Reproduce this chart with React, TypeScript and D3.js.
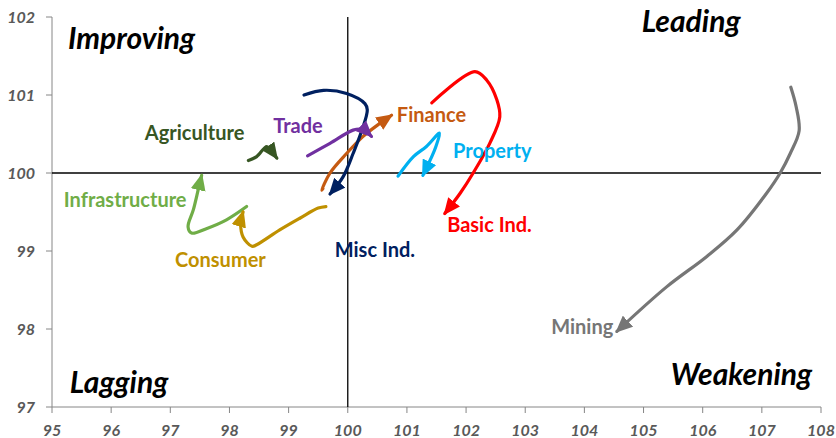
import React from "react";
import * as d3 from "d3";

// relative strength (x) vs momentum (y) trails
const xTicks = [95, 96, 97, 98, 99, 100, 101, 102, 103, 104, 105, 106, 107, 108];
const yTicks = [97, 98, 99, 100, 101, 102];

const mining: [number, number][] = [
  [107.49, 101.1], [107.58, 100.85], [107.63, 100.54], [107.48, 100.25], [107.31, 100.0],
  [107.08, 99.74], [106.58, 99.27], [106.07, 98.93], [105.39, 98.54], [104.55, 97.97],
];
const basicInd: [number, number][] = [
  [101.42, 100.9], [102.15, 101.3], [102.35, 101.19], [102.52, 100.94], [102.57, 100.72],
  [102.4, 100.38], [102.12, 100.0], [101.9, 99.74], [101.64, 99.48],
];
const property: [number, number][] = [
  [100.85, 99.96], [101.11, 100.21], [101.33, 100.34], [101.55, 100.51],
  [101.49, 100.34], [101.42, 100.21], [101.27, 99.97],
];
const finance: [number, number][] = [
  [99.58, 99.8], [99.56, 99.78], [99.7, 100.0], [99.98, 100.25], [100.26, 100.47], [100.55, 100.64], [100.74, 100.74],
];
const miscInd: [number, number][] = [
  [99.26, 101.0], [99.59, 101.06], [99.98, 101.02], [100.29, 100.89], [100.33, 100.81],
  [100.24, 100.55], [100.09, 100.25], [99.92, 99.95], [99.7, 99.73],
];
const trade: [number, number][] = [
  [99.32, 100.22], [99.7, 100.38], [100.09, 100.55], [100.24, 100.56], [100.4, 100.47],
];
const agriculture: [number, number][] = [
  [98.32, 100.16], [98.46, 100.21], [98.63, 100.34], [98.7, 100.29], [98.8, 100.19],
];
const infrastructure: [number, number][] = [
  [98.29, 99.57], [97.95, 99.4], [97.62, 99.29], [97.36, 99.23], [97.3, 99.31],
  [97.39, 99.53], [97.47, 99.78], [97.53, 99.97],
];
const consumer: [number, number][] = [
  [99.63, 99.57], [99.5, 99.55], [99.19, 99.42], [98.85, 99.27], [98.46, 99.08],
  [98.38, 99.06], [98.23, 99.18], [98.19, 99.35], [98.23, 99.5],
];

const series = [
  { name: "Mining", color: "#767676", pts: mining, lx: 103.44, ly: 97.93 },
  { name: "Basic Ind.", color: "#ff0000", pts: basicInd, lx: 101.68, ly: 99.24 },
  { name: "Property", color: "#00b0f0", pts: property, lx: 101.78, ly: 100.19 },
  { name: "Finance", color: "#c55a11", pts: finance, lx: 100.83, ly: 100.65 },
  { name: "Misc Ind.", color: "#002060", pts: miscInd, lx: 99.78, ly: 98.92 },
  { name: "Trade", color: "#7030a0", pts: trade, lx: 98.74, ly: 100.51 },
  { name: "Agriculture", color: "#375623", pts: agriculture, lx: 96.57, ly: 100.42 },
  { name: "Infrastructure", color: "#70ad47", pts: infrastructure, lx: 95.2, ly: 99.57 },
  { name: "Consumer", color: "#bf9000", pts: consumer, lx: 97.08, ly: 98.8 },
];

const quadrants = [
  { name: "Improving", x: 95.27, y: 101.59, anchor: "start" },
  { name: "Leading", x: 104.97, y: 101.81, anchor: "start" },
  { name: "Lagging", x: 95.3, y: 97.18, anchor: "start" },
  { name: "Weakening", x: 107.85, y: 97.28, anchor: "end" },
];

const W = 836;
const H = 438;
const margin = { top: 17, right: 15, bottom: 31, left: 52 };
const font = "Lato, 'Open Sans', sans-serif";

export default function App() {
  const x = d3.scaleLinear().domain([95, 108]).range([margin.left, W - margin.right]);
  const y = d3.scaleLinear().domain([97, 102]).range([H - margin.bottom, margin.top]);
  const line = d3
    .line<[number, number]>()
    .x((d) => x(d[0]))
    .y((d) => y(d[1]))
    .curve(d3.curveCatmullRom.alpha(0.5));

  const axisColor = "#868686";
  const tickColor = "#595959";

  return (
    <svg width={W} height={H} style={{ position: "absolute", left: 0, top: 0, background: "#fff" }}>
      <defs>
        {series.map((s, i) => (
          <marker
            key={s.name}
            id={"arrow" + i}
            viewBox="0 0 17 15"
            refX={15}
            refY={7.5}
            markerWidth={17}
            markerHeight={15}
            markerUnits="userSpaceOnUse"
            orient="auto"
          >
            <path d="M0,0 L17,7.5 L0,15 Z" fill={s.color} />
          </marker>
        ))}
      </defs>

      {/* left axis */}
      <line x1={x(95)} x2={x(95)} y1={y(97)} y2={y(102)} stroke={axisColor} />
      {yTicks.map((t) => (
        <g key={"y" + t}>
          <line x1={x(95) - 6} x2={x(95)} y1={y(t)} y2={y(t)} stroke={axisColor} />
          <text
            x={x(95) - 17}
            y={y(t)}
            dy="0.36em"
            textAnchor="end"
            fontFamily={font}
            fontWeight="bold"
            fontStyle="italic"
            fontSize={16}
            fill={tickColor}
          >
            {t}
          </text>
        </g>
      ))}

      {/* bottom axis */}
      <line x1={x(95)} x2={x(108)} y1={y(97)} y2={y(97)} stroke={axisColor} />
      {xTicks.map((t) => (
        <g key={"x" + t}>
          <line x1={x(t)} x2={x(t)} y1={y(97)} y2={y(97) + 6} stroke={axisColor} />
          <text
            x={x(t)}
            y={y(97) + 29}
            textAnchor="middle"
            fontFamily={font}
            fontWeight="bold"
            fontStyle="italic"
            fontSize={16}
            fill={tickColor}
          >
            {t}
          </text>
        </g>
      ))}

      {/* crosshair at 100/100 */}
      <line x1={x(100)} x2={x(100)} y1={y(97)} y2={y(102)} stroke="#000" strokeWidth={1.3} />
      <line x1={x(95)} x2={x(108)} y1={y(100)} y2={y(100)} stroke="#000" strokeWidth={1.3} />

      {quadrants.map((q) => (
        <text
          key={q.name}
          x={x(q.x)}
          y={y(q.y)}
          textAnchor={q.anchor as any}
          fontFamily={font}
          fontWeight="bold"
          fontStyle="italic"
          fontSize={30}
          fill="#000"
        >
          {q.name}
        </text>
      ))}

      {series.map((s, i) => (
        <path
          key={s.name}
          d={line(s.pts) || ""}
          fill="none"
          stroke={s.color}
          strokeWidth={3.2}
          strokeLinecap="round"
          strokeLinejoin="round"
          markerEnd={`url(#arrow${i})`}
        />
      ))}

      {series.map((s) => (
        <text
          key={"l" + s.name}
          x={x(s.lx)}
          y={y(s.ly)}
          fontFamily={font}
          fontWeight="bold"
          fontSize={20}
          fill={s.color}
        >
          {s.name}
        </text>
      ))}
    </svg>
  );
}
